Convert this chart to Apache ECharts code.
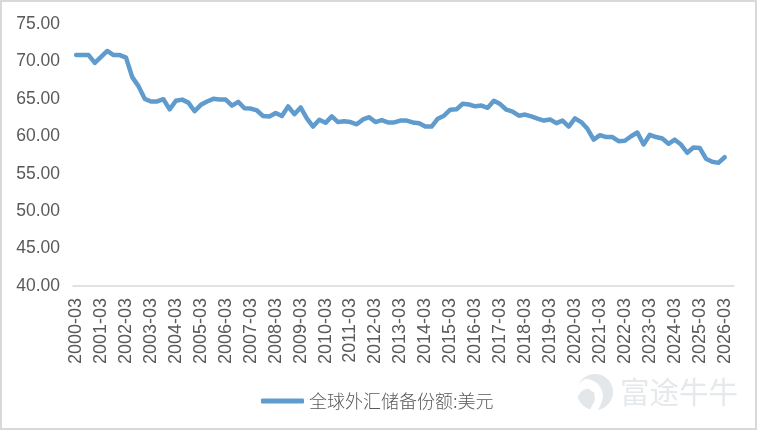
<!DOCTYPE html>
<html>
<head>
<meta charset="utf-8">
<style>
html, body { margin: 0; padding: 0; background: #fff; }
#chart { width: 757px; height: 430px; }
</style>
<script src="https://cdn.jsdelivr.net/npm/echarts@6/dist/echarts.min.js"></script>
</head>
<body>
<div id="chart"></div>
<script>
var seriesName = '全球外汇储备份额:美元';
var watermark = '富途牛牛';

// 季度标签 2000-03 ~ 2026-06,最后一个季度没有数据
var categories = [];
for (var y = 2000; y <= 2026; y++) {
    ['03', '06', '09', '12'].forEach(function (m) {
        if (y < 2026 || m === '03' || m === '06') categories.push(y + '-' + m);
    });
}

var values = [
    70.87, 70.85, 70.85, 69.8, 70.6, 71.4, 70.85, 70.85, 70.5, 67.9,
    66.7, 65.0, 64.65, 64.65, 64.95, 63.6, 64.75, 64.9, 64.5, 63.35,
    64.2, 64.65, 65.0, 64.9, 64.9, 64.1, 64.6, 63.75, 63.7, 63.45,
    62.7, 62.65, 63.1, 62.7, 64.0, 62.95, 63.85, 62.4, 61.3, 62.2,
    61.8, 62.65, 61.9, 62.0, 61.9, 61.6, 62.25, 62.55, 61.9, 62.15,
    61.85, 61.85, 62.1, 62.1, 61.85, 61.75, 61.3, 61.3, 62.35, 62.75,
    63.55, 63.6, 64.35, 64.25, 64.0, 64.1, 63.8, 64.75, 64.3, 63.55,
    63.3, 62.75, 62.9, 62.65, 62.35, 62.1, 62.25, 61.75, 62.1, 61.3,
    62.4, 61.9, 61.0, 59.55, 60.15, 59.9, 59.9, 59.35, 59.4, 60.0,
    60.5, 58.9, 60.2, 59.9, 59.7, 59.0, 59.55, 58.9, 57.8, 58.5,
    58.45, 57.0, 56.6, 56.45, 57.2
];

var myChart = echarts.init(document.getElementById('chart'));

var option = {
    animation: false,
    backgroundColor: '#ffffff',
    textStyle: { fontFamily: 'Liberation Sans' },
    grid: { left: 73, right: 23, top: 24, bottom: 144 },
    legend: {
        data: [seriesName],
        left: 256,
        top: 387,
        icon: 'roundRect',
        itemWidth: 43,
        itemHeight: 5,
        textStyle: {
            color: '#595959',
            fontSize: 18,
            fontFamily: 'Noto Sans CJK SC',
            fontWeight: 300
        }
    },
    xAxis: {
        type: 'category',
        data: categories,
        axisTick: { show: false },
        axisLine: { lineStyle: { color: '#d9d9d9', width: 1.5 } },
        axisLabel: {
            interval: 3,
            rotate: 90,
            color: '#595959',
            fontSize: 18,
            margin: 12
        }
    },
    yAxis: {
        type: 'value',
        min: 40,
        max: 75,
        interval: 5,
        axisLine: { show: false },
        axisTick: { show: false },
        splitLine: { show: false },
        axisLabel: {
            color: '#595959',
            fontSize: 17.5,
            margin: 13,
            formatter: function (v) { return v.toFixed(2); }
        }
    },
    series: [
        {
            name: seriesName,
            type: 'line',
            data: values,
            symbol: 'none',
            itemStyle: { color: '#5f9bcd' },
            lineStyle: { color: '#5f9bcd', width: 4.5, cap: 'round', join: 'round' }
        }
    ],
    graphic: [
        {
            type: 'rect',
            silent: true,
            shape: { x: 0, y: 0, width: 757, height: 430 },
            style: { fill: 'none', stroke: '#d9d9d9', lineWidth: 4 }
        },
        // 水印 logo
        {
            type: 'circle',
            silent: true,
            shape: { cx: 595, cy: 392, r: 18 },
            style: { fill: '#e3e7ea' }
        },
        {
            type: 'polygon',
            silent: true,
            shape: {
                points: [[586, 379], [598, 384], [603, 396], [597, 411], [590, 411], [595, 398], [589, 389], [582, 391], [576, 398], [574, 390]],
                smooth: 0.3
            },
            style: { fill: '#ffffff' }
        },
        {
            type: 'circle',
            silent: true,
            shape: { cx: 592, cy: 394, r: 2.5 },
            style: { fill: '#e3e7ea' }
        },
        {
            type: 'text',
            silent: true,
            left: 620,
            top: 377,
            style: {
                text: watermark,
                fill: '#e6e9eb',
                font: '29.5px "Noto Sans CJK SC"'
            }
        }
    ]
};

myChart.setOption(option);
window.addEventListener('resize', function () {
    myChart.resize();
});
</script>
</body>
</html>
